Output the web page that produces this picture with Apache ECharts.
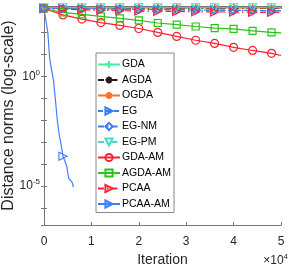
<!DOCTYPE html>
<html><head><meta charset="utf-8">
<script src="https://cdn.jsdelivr.net/npm/echarts@6/dist/echarts.min.js"></script>
<style>html,body{margin:0;padding:0;background:#fff}#c{width:289px;height:268px}</style>
</head><body><div id="c"></div>
<script>
// Iteration samples (markers every 4000 iterations)
const iters = [0, 4000, 8000, 12000, 16000, 20000, 24000, 28000, 32000, 36000, 40000, 44000, 48000, 50000];
const gda    = [1350, 1350, 1350, 1350, 1350, 1350, 1350, 1350, 1350, 1350, 1350, 1350, 1350, 1350];
const agda   = [1260, 1260, 1260, 1260, 1260, 1260, 1260, 1260, 1260, 1260, 1260, 1260, 1260, 1260];
const ogda   = [1300, 1300, 1300, 1300, 1300, 1300, 1300, 1300, 1300, 1300, 1300, 1300, 1300, 1300];
const eg     = [1250, 1230, 1200, 1180, 1150, 1120, 1100, 1080, 1060, 1040, 1020, 1000, 990, 980];
const egnm   = [1240, 1220, 1190, 1170, 1140, 1110, 1090, 1070, 1050, 1030, 1010, 995, 985, 975];
const egpm   = [1330, 1330, 1330, 1330, 1330, 1330, 1330, 1330, 1330, 1330, 1330, 1330, 1330, 1330];
const gdaam  = [1230, 631, 407, 282, 209, 151, 100, 66, 44, 31.6, 20.9, 15.1, 11.2, 8.9];
const agdaam = [1230, 813, 661, 537, 437, 355, 269, 229, 186, 158, 145, 117, 100, 95];
const pcaa   = [1230, 1150, 1080, 1020, 980, 950, 920, 900, 880, 860, 850, 830, 820, 810];
// PCAA-AM converges quickly
const itersFast = [0, 400, 800, 1200, 1600, 2000, 2400, 2800, 3200, 3600, 4000, 4400, 4800, 5200, 5600, 6000, 6200];
const pcaaam = [1230, 350, 100, 6.6, 1.9, 0.66, 0.09, 0.01, 0.0023, 8e-4, 2.3e-4, 1.4e-4, 8e-5, 2.3e-5, 2.1e-5, 1.4e-5, 9e-6];
const xTicks = ['0', '1', '2', '3', '4', '5'];
const names = ['GDA', 'AGDA', 'OGDA', 'EG', 'EG-NM', 'EG-PM', 'GDA-AM', 'AGDA-AM', 'PCAA', 'PCAA-AM'];

const FONT = 'Liberation Sans, Arial, Helvetica, sans-serif';
const PLUS = 'path://M5,0L5,10M0,5L10,5';
const STAR = 'path://M5,0L5,10M0,5L10,5M1.6,1.6L8.4,8.4M8.4,1.6L1.6,8.4';
const RTRI = 'path://M0,0L10,5L0,10Z';
const DTRI = 'path://M0,0L10,0L5,10Z';
const DASH = [5, 3];
const DASHDOT = [6, 3, 1.5, 3];

function pairs(xs, ys) { return xs.map((x, i) => [x, ys[i]]); }
function mk(name, xs, ys, color, symbol, size, lineType) {
  return {
    name: name, type: 'line', data: pairs(xs, ys),
    symbol: symbol, showAllSymbol: true,
    symbolSize: v => (v[0] % 4000 === 0 && v[0] <= 48000) ? size : 0,
    lineStyle: { color: color, width: 1.2, type: lineType },
    itemStyle: { color: 'rgba(255,255,255,0)', borderColor: color, borderWidth: 1.2 },
    emphasis: { disabled: true }, animation: false
  };
}
const series = [
  mk('GDA', iters, gda, '#3ff0a0', PLUS, 8, 'solid'),
  mk('AGDA', iters, agda, '#2b1a1a', STAR, 8, DASHDOT),
  mk('OGDA', iters, ogda, '#ff7020', STAR, 8, 'solid'),
  mk('EG', iters, eg, '#3b7ded', RTRI, 8, DASH),
  mk('EG-NM', iters, egnm, '#3b7ded', 'diamond', 8, DASHDOT),
  mk('EG-PM', iters, egpm, '#40e0c8', DTRI, 8, DASHDOT),
  mk('GDA-AM', iters, gdaam, '#ff2030', 'circle', 8, 'solid'),
  mk('AGDA-AM', iters, agdaam, '#2bc21a', 'rect', 7, 'solid'),
  mk('PCAA', iters, pcaa, '#ff2040', RTRI, 8, DASHDOT),
  mk('PCAA-AM', itersFast, pcaaam, '#4080ff', RTRI, 8, 'solid')
];

const axisCol = '#777';
const yMin = 1.7e-7, yMax = 1.6e3;
function yFmt(v) {
  const l = Math.log10(v), e = Math.round(l);
  if (Math.abs(l - e) > 1e-6) return '';
  if (e === 0 || e === -5) return '{b|10}{s|' + e + '}';
  return '';
}
const chart = echarts.init(document.getElementById('c'), null, { renderer: 'canvas' });
chart.setOption({
  animation: false,
  backgroundColor: '#fff',
  textStyle: { fontFamily: FONT },
  title: {
    text: '{a|×10}{b|4}', right: 1, bottom: 1, padding: 0,
    textStyle: { fontWeight: 'normal', rich: {
      a: { fontSize: 12, color: '#262626', fontFamily: FONT, fontWeight: 'normal' },
      b: { fontSize: 8, color: '#262626', fontFamily: FONT, fontWeight: 'normal', verticalAlign: 'top', padding: [0, 0, 8, 0] }
    } }
  },
  grid: { left: 44, right: 8, top: 6, bottom: 43, containLabel: false, outerBoundsMode: 'none' },
  legend: {
    orient: 'vertical', left: 96, top: 53,
    data: names, itemWidth: 22, itemHeight: 9, itemGap: 4.5,
    padding: [6, 3, 3, 1],
    backgroundColor: '#fff', borderColor: '#888', borderWidth: 1,
    itemStyle: { color: 'rgba(255,255,255,0)' },
    textStyle: { fontSize: 10.5, color: '#000', fontFamily: FONT, padding: [0, 0, 0, -3] }
  },
  xAxis: [{
    type: 'value', min: 0, max: 50000, interval: 10000,
    name: 'Iteration', nameLocation: 'middle', nameGap: 28, nameMoveOverlap: false,
    nameTextStyle: { fontSize: 14, color: '#262626', fontFamily: FONT },
    axisLine: { lineStyle: { color: axisCol, width: 1 } },
    axisTick: { inside: true, length: 3, lineStyle: { color: axisCol } },
    axisLabel: { fontSize: 12, color: '#262626', margin: 11, fontFamily: FONT,
      formatter: v => xTicks[Math.round(v / 10000)] },
    splitLine: { show: false }
  }, {
    type: 'value', position: 'top', min: 0, max: 50000, interval: 10000,
    axisLine: { show: true, lineStyle: { color: axisCol, width: 1 } },
    axisTick: { inside: true, length: 3, lineStyle: { color: axisCol } },
    axisLabel: { show: false }, splitLine: { show: false }
  }],
  yAxis: [{
    type: 'log', min: yMin, max: yMax, splitNumber: 10, logBase: 10,
    name: 'Distance norms (log-scale)', nameLocation: 'middle', nameGap: 27, nameMoveOverlap: false,
    nameTextStyle: { fontSize: 16, color: '#262626', fontFamily: FONT },
    axisLine: { show: true, lineStyle: { color: axisCol, width: 1 } },
    axisTick: { inside: true, length: 3, lineStyle: { color: axisCol } },
    axisLabel: { margin: 4, formatter: yFmt, showMinLabel: false, showMaxLabel: false,
      rich: {
        b: { fontSize: 12, color: '#262626', fontFamily: FONT },
        s: { fontSize: 8, color: '#262626', fontFamily: FONT, verticalAlign: 'top', padding: [0, 0, 8, 0] }
      } },
    splitLine: { show: false }, minorTick: { show: false }
  }, {
    type: 'log', position: 'right', min: yMin, max: yMax, splitNumber: 10, logBase: 10,
    axisLine: { show: true, lineStyle: { color: axisCol, width: 1 } },
    axisTick: { inside: true, length: 3, lineStyle: { color: axisCol } },
    axisLabel: { show: false }, splitLine: { show: false }
  }],
  series: series
});
</script></body></html>
